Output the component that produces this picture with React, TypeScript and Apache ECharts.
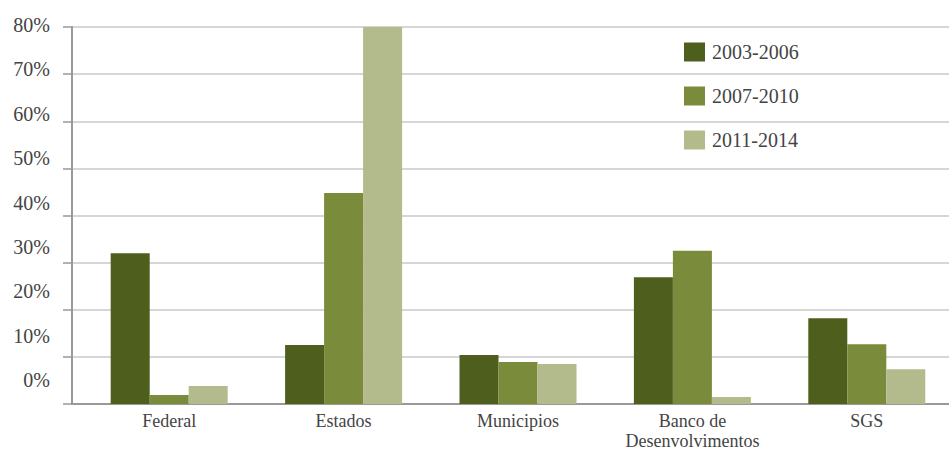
import React, { useEffect, useRef } from "react";
import * as echarts from "echarts";

const categories = ["Federal", "Estados", "Municipios", "Banco de\nDesenvolvimentos", "SGS"];
const seriesNames = ["2003-2006", "2007-2010", "2011-2014"];
const values2003 = [32.0, 12.5, 10.4, 26.9, 18.2];
const values2007 = [1.9, 44.8, 8.9, 32.5, 12.7];
const values2011 = [3.8, 80, 8.5, 1.5, 7.4];
const colors = ["#4d5e1d", "#7a8b3b", "#b3bb8d"];

const FONT = "'Liberation Serif', 'DejaVu Serif', serif";

export default function App() {
  const ref = useRef<HTMLDivElement>(null);
  useEffect(() => {
    if (!ref.current) return;
    const chart = echarts.init(ref.current, null, { renderer: "svg" });
    const seriesData = [values2003, values2007, values2011];
    chart.setOption({
      animation: false,
      backgroundColor: "#ffffff",
      textStyle: { fontFamily: FONT },
      legend: {
        orient: "vertical",
        left: 679,
        top: 37,
        itemWidth: 21,
        itemHeight: 19,
        itemGap: 24,
        icon: "rect",
        textStyle: { fontFamily: FONT, fontSize: 20, color: "#444", padding: [0, 0, 0, 2] },
        data: seriesNames,
      },
      grid: [
        { left: 72, right: 0, top: 27, bottom: 46, outerBoundsMode: "none", containLabel: false },
        { left: 82, width: 872, top: 27, bottom: 46, outerBoundsMode: "none", containLabel: false },
        { left: 72, right: 0, top: 25, bottom: 70, outerBoundsMode: "none", containLabel: false },
      ],
      xAxis: [
        {
          type: "category",
          gridIndex: 0,
          data: categories,
          axisLine: { show: true, lineStyle: { color: "#999", width: 2 } },
          axisTick: { show: false },
          axisLabel: { show: false },
        },
        {
          type: "category",
          gridIndex: 1,
          data: categories,
          axisLine: { show: false },
          axisTick: { show: false },
          axisLabel: {
            show: true,
            margin: 7,
            fontFamily: FONT,
            fontSize: 18,
            color: "#444",
            lineHeight: 20,
            interval: 0,
          },
        },
        {
          type: "category",
          gridIndex: 2,
          data: categories,
          show: false,
        },
      ],
      yAxis: [
        {
          type: "value",
          gridIndex: 0,
          min: 0,
          max: 80,
          interval: 10,
          axisLine: { show: true, lineStyle: { color: "#999", width: 2 } },
          axisTick: { show: true, inside: false, length: 9, lineStyle: { color: "#999", width: 1.5 } },
          axisLabel: { show: false },
          splitLine: { show: true, lineStyle: { color: "#c8c8c8", width: 1.5 } },
        },
        {
          type: "value",
          gridIndex: 1,
          min: 0,
          max: 80,
          interval: 10,
          show: false,
          splitLine: { show: false },
        },
        {
          type: "value",
          gridIndex: 2,
          min: 0,
          max: 80,
          interval: 10,
          axisLine: { show: false },
          axisTick: { show: false },
          splitLine: { show: false },
          axisLabel: {
            show: true,
            margin: 22,
            fontFamily: FONT,
            fontSize: 20,
            color: "#444",
            formatter: "{value}%",
          },
        },
      ],
      series: seriesNames.map((name, i) => ({
        name,
        type: "bar",
        xAxisIndex: 1,
        yAxisIndex: 1,
        data: seriesData[i],
        barWidth: 39,
        barGap: "0%",
        itemStyle: { color: colors[i] },
      })),
    });
    return () => chart.dispose();
  }, []);
  return (
    <div
      ref={ref}
      style={{ position: "fixed", left: 0, top: 0, width: 949, height: 450 }}
    />
  );
}
